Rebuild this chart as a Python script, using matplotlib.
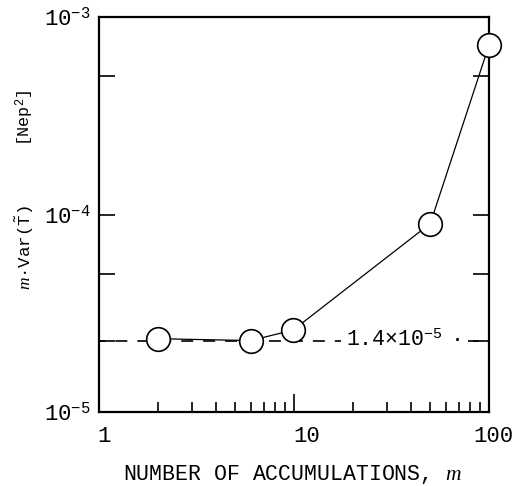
import numpy as np
import matplotlib
matplotlib.use("Agg")
import matplotlib.pyplot as plt
from matplotlib.ticker import FixedLocator, NullFormatter
from matplotlib.transforms import ScaledTranslation

# typewriter look of the original figure
plt.rcParams['font.family'] = ['Liberation Mono', 'DejaVu Sans Mono']
plt.rcParams['mathtext.fontset'] = 'custom'
plt.rcParams['mathtext.rm'] = 'Liberation Mono'
plt.rcParams['mathtext.it'] = 'Liberation Serif:italic'
plt.rcParams['mathtext.tt'] = 'Liberation Mono'
plt.rcParams['lines.scale_dashes'] = False

# data
m_vals = [2, 6, 9.9, 50, 100]
var_vals = [2.35e-5, 2.3e-5, 2.6e-5, 9.0e-5, 7.2e-4]
ref_level = 2.3e-5
ref_text = "1.4×10$^{-5}$"

x_ticks = [1, 10, 100]
x_ticklabels = ["1", "10", "100"]
y_ticks = [1e-5, 1e-4, 1e-3]
y_ticklabels = ["10$^{-5}$", "10$^{-4}$", "10$^{-3}$"]
y_minor = [5e-4, 5e-5, ref_level]

fig = plt.figure(figsize=(5.17, 4.86), dpi=100)
ax = fig.add_axes([99/517, 1 - 412/486, 390/517, 395/486])
ax.set_xscale('log')
ax.set_yscale('log')
ax.set_xlim(1, 100)
ax.set_ylim(1e-5, 1e-3)

# dashed reference level, broken by the label
ax.axhline(ref_level, color='k', lw=1.2, ls=(4, (8.6, 7.2)), zorder=1)
ax.text(18.5, ref_level, ref_text, fontsize=15.5, va='center', ha='left',
        bbox=dict(facecolor='white', edgecolor='none', pad=4), zorder=2)
ax.text(69, ref_level, "·", fontsize=15.5, va='center', ha='center',
        bbox=dict(facecolor='white', edgecolor='none', pad=3), zorder=2)

ax.plot(m_vals, var_vals, color='k', lw=0.9, marker='o', markersize=17,
        markerfacecolor='white', markeredgecolor='k', markeredgewidth=1.2,
        zorder=3, clip_on=False)

for s in ax.spines.values():
    s.set_linewidth(1.6)

ax.xaxis.set_major_locator(FixedLocator(x_ticks))
ax.set_xticklabels(x_ticklabels)
ax.xaxis.set_minor_locator(FixedLocator(
    [v * d for d in (1, 10) for v in range(2, 10)]))
ax.xaxis.set_minor_formatter(NullFormatter())
ax.tick_params(axis='x', which='major', direction='in', length=13, width=1.2,
               labelsize=16, pad=10, top=False)
ax.tick_params(axis='x', which='minor', direction='in', length=7, width=1.2,
               top=False)
# labels in the original sit a little right of their ticks
for lbl, dx in zip(ax.get_xticklabels(), (5, 13, 4)):
    lbl.set_transform(lbl.get_transform()
                      + ScaledTranslation(dx / 100, 0, fig.dpi_scale_trans))

ax.yaxis.set_major_locator(FixedLocator(y_ticks))
ax.set_yticklabels(y_ticklabels)
ax.yaxis.set_minor_locator(FixedLocator(y_minor))
ax.yaxis.set_minor_formatter(NullFormatter())
ax.tick_params(axis='y', which='both', direction='in', length=11.5, width=1.2,
               labelsize=16, pad=6, left=True, right=True)

ax.set_xlabel("NUMBER OF ACCUMULATIONS, $m$", fontsize=15.5)
ax.xaxis.set_label_coords(0.497, -0.157)
ax.xaxis.label.set_va('center')

ax.text(-0.19, 0.415, "$m$·Var($\\tilde{\\mathrm{T}}$)", transform=ax.transAxes,
        rotation=90, ha='center', va='center', fontsize=12.5)
ax.text(-0.19, 0.745, "[Nep$^2$]", transform=ax.transAxes,
        rotation=90, ha='center', va='center', fontsize=12)

fig.savefig("out.png", dpi=100)
